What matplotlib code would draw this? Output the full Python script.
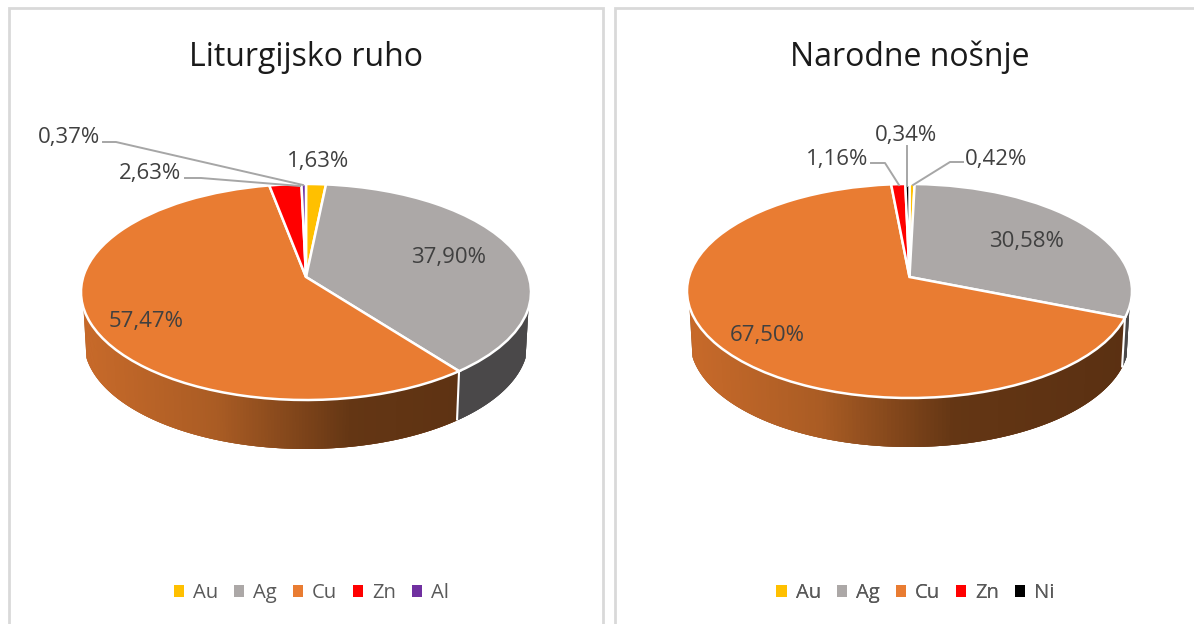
import numpy as np
import matplotlib
matplotlib.use("Agg")
import matplotlib.pyplot as plt
from matplotlib.patches import Patch
from matplotlib.collections import PolyCollection
from matplotlib.transforms import Transform

W, H = 1194, 624
FONT = ["Open Sans", "DejaVu Sans"]
plt.rcParams["font.family"] = FONT

# ---- data ----
left_title = "Liturgijsko ruho"
left_categories = ["Au", "Ag", "Cu", "Zn", "Al"]
left_values = [1.63, 37.90, 57.47, 2.63, 0.37]

right_title = "Narodne nošnje"
right_categories = ["Au", "Ag", "Cu", "Zn", "Ni"]
right_values = [0.42, 30.58, 67.50, 1.16, 0.34]

COLORS = {"Au": "#FFC000", "Ag": "#ACA8A7", "Cu": "#E97C32",
          "Zn": "#FF0000", "Al": "#7030A0", "Ni": "#000000"}
WALL_STOPS = {
    "Cu": ([0, .3, .6, 1], [(200, 106, 42), (170, 92, 36), (100, 54, 20), (90, 48, 18)]),
    "Ag": ([0, 1], [(74, 72, 73), (74, 72, 73)]),
}
TEXT = "#595959"
LABEL = "#404040"
LEADER = "#A6A6A6"
BORDER = "#D9D9D9"


class Perspective(Transform):
    """Keeps the unit circle, moves its centre up by k."""
    input_dims = output_dims = 2
    is_separable = False
    has_inverse = False

    def __init__(self, k):
        super().__init__()
        self.k = k

    def transform_non_affine(self, values):
        values = np.asarray(values, float)
        den = 1 + self.k * values[:, 1]
        return np.column_stack((values[:, 0] * np.sqrt(1 - self.k ** 2) / den,
                                (values[:, 1] + self.k) / den))


def draw_pie(cats, vals, cx, cy, rx, ry, apex_y, rx2, cy2, ry2):
    ax = fig.add_axes([(cx - rx) / W, 1 - (cy + ry) / H, 2 * rx / W, 2 * ry / H], zorder=1)
    k = (cy - apex_y) / ry
    persp = Perspective(k)
    wedges, _ = ax.pie(vals, colors=[COLORS[c] for c in cats], startangle=90, counterclock=False,
                       radius=1, wedgeprops=dict(edgecolor="white", linewidth=1.8))
    ax.set_aspect("auto")
    ax.set_xlim(-1, 1)
    ax.set_ylim(-1, 1)
    ax.axis("off")
    for w in wedges:
        w.set_transform(persp + ax.transData)
        w.set_clip_on(False)
        w.set_zorder(3)

    # side wall: visible part of the rim only
    vis = -16 / ry
    t_low = np.arccos((vis - k) / (1 - k * vis))
    t_high = 2 * np.pi - t_low
    edges = np.concatenate(([0], np.cumsum(vals))) / np.sum(vals) * 2 * np.pi

    def rim(t):
        p = persp.transform_non_affine(np.column_stack((np.sin(t), np.cos(t))))
        top = p.copy()
        bottom = np.column_stack((p[:, 0] * rx2 / rx, (p[:, 1] * ry2 - (cy2 - cy)) / ry))
        return top, bottom

    for cat, t1, t2 in zip(cats, edges[:-1], edges[1:]):
        a, b = max(t1, t_low), min(t2, t_high)
        if b <= a:
            continue
        t = np.linspace(a, b, 160)
        top, bottom = rim(t)
        stops, cols = WALL_STOPS.get(cat, ([0, 1], [(80, 80, 80), (80, 80, 80)]))
        order = np.argsort(top[:, 0])
        top, bottom = top[order], bottom[order]

        def shade(p):
            return [np.interp((p + 1) / 2, stops, [c[n] for c in cols]) / 255 for n in range(3)]

        # solid base under the gradient strips, so antialiased strip edges leave no texture
        ax.fill(np.r_[top[:, 0], bottom[::-1, 0]], np.r_[top[:, 1], bottom[::-1, 1]],
                color=shade(top[len(t) // 2, 0]), lw=0, zorder=1, clip_on=False)
        verts, cols_out = [], []
        for i in range(len(t) - 1):
            j = min(i + 2, len(t) - 1)  # overlap the next strip so no seams show
            verts.append([top[i], top[j], bottom[j], bottom[i]])
            cols_out.append(shade((top[i, 0] + top[i + 1, 0]) / 2))
        pc = PolyCollection(verts, facecolors=cols_out, edgecolors="none", antialiased=True, zorder=1.1)
        pc.set_clip_on(False)
        ax.add_collection(pc, autolim=False)
        if t_low < t1 < t_high:
            top1, bot1 = rim(np.array([t1]))
            ax.plot([top1[0, 0], bot1[0, 0]], [top1[0, 1], bot1[0, 1]], color="white",
                    lw=1.5, zorder=2, clip_on=False, solid_capstyle="butt")
    ax.set_xlim(-1, 1)
    ax.set_ylim(-1, 1)


def pct(v):
    return f"{v:.2f}%".replace(".", ",")


def add_legend(cats, centre_x):
    handles = [Patch(facecolor=COLORS[c], edgecolor="none") for c in cats]
    leg = over.legend(handles, cats, loc="center", bbox_to_anchor=(centre_x, 593),
                      bbox_transform=over.transData, ncol=len(cats), frameon=False,
                      fontsize=14.6, labelcolor=TEXT, handlelength=0.5, handleheight=0.5,
                      handletextpad=0.45, columnspacing=0.78, borderpad=0, borderaxespad=0)
    over.add_artist(leg)


fig = plt.figure(figsize=(W / 100, H / 100), dpi=100, facecolor="white")

draw_pie(left_categories, left_values, 306, 292, 225, 108, 277, 222, 342, 107)
draw_pie(right_categories, right_values, 909.5, 291, 222.5, 107, 277, 219.5, 341, 106)

# overlay in pixel coordinates for frames, texts and leaders
over = fig.add_axes([0, 0, 1, 1], zorder=5)
over.set_xlim(0, W)
over.set_ylim(H, 0)
over.axis("off")
over.patch.set_alpha(0)

for xs, ys in [([8.5, 8.5, 603, 603], [640, 8, 8, 640]), ([614.5, 614.5, 1210], [640, 8, 8])]:
    over.plot(xs, ys, color=BORDER, lw=2.0, solid_joinstyle="miter")

over.text(306, 57, left_title, ha="center", va="center", fontsize=23, color="#1a1a1a")
over.text(909.5, 57, right_title, ha="center", va="center", fontsize=23, color="#1a1a1a")

left_label_xy = [(318, 160), (449, 255), (146, 320), (150, 172), (69, 136)]
right_label_xy = [(996, 158), (1026, 240), (767, 333), (837, 158), (906, 133)]
for vals, xy in ((left_values, left_label_xy), (right_values, right_label_xy)):
    for v, (x, y) in zip(vals, xy):
        over.text(x, y + 2, pct(v), ha="center", va="center", fontsize=16, color=LABEL)

leaders = [
    ([103, 116, 303], [142, 142, 185]),
    ([185, 201, 300], [178, 178, 186]),
    ([871, 885, 899], [163, 163, 185]),
    ([907, 907], [146, 186]),
    ([963, 950, 913], [162, 162, 185]),
]
for xs, ys in leaders:
    over.plot(xs, ys, color=LEADER, lw=1.4)

add_legend(left_categories, 311.5)
add_legend(right_categories, 915.5)

fig.savefig("out.png", dpi=100)
